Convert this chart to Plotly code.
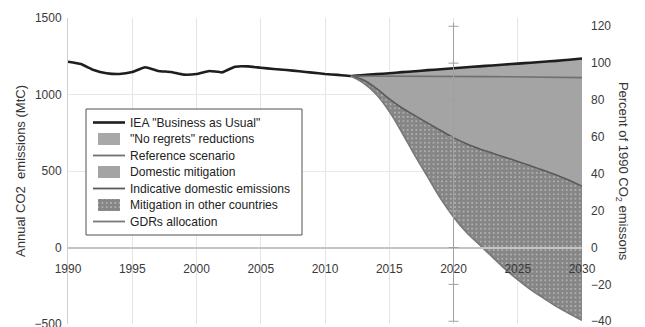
import plotly.graph_objects as go

# Historical emissions (MtC), 1990-2012
hist_years = list(range(1990, 2013))
hist_vals = [1214, 1199, 1160, 1139, 1134, 1147, 1178, 1154, 1147, 1130, 1134,
             1154, 1145, 1182, 1184, 1175, 1167, 1160, 1152, 1143, 1134, 1128, 1121]

# Projections, 2012-2030
proj_years = list(range(2012, 2031))
bau = [1121, 1127, 1133, 1139, 1146, 1152, 1159, 1165, 1172, 1178, 1184,
       1190, 1196, 1202, 1208, 1214, 1220, 1227, 1235]
reference = [1121, 1121, 1121, 1121, 1121, 1121, 1121, 1121, 1120, 1119, 1118,
             1117, 1116, 1115, 1114, 1113, 1112, 1111, 1110]
domestic = [1121, 1095, 1040, 972, 912, 862, 813, 765, 718, 678, 645,
            617, 590, 562, 534, 505, 474, 439, 400]
gdrs = [1121, 1075, 1000, 890, 750, 600, 460, 320, 200, 100, 20,
        -60, -140, -210, -275, -330, -385, -432, -476]

bau_all_years = hist_years + proj_years[1:]
bau_all = hist_vals + bau[1:]

# Right axis: percent of 1990 emissions
base_1990 = 1205
pct_ticks = [120, 100, 80, 60, 40, 20, 0, -20, -40]
mtc_ticks = [1500, 1000, 500, 0, -500]
x_ticks = list(range(1990, 2031, 5))

# Legend entries: (label, kind)
legend_items = [
    ("IEA \"Business as Usual\"", "bau"),
    ("\"No regrets\" reductions", "noregrets"),
    ("Reference scenario", "reference"),
    ("Domestic mitigation", "domestic_fill"),
    ("Indicative domestic emissions", "domestic_line"),
    ("Mitigation in other countries", "hatch"),
    ("GDRs allocation", "gdrs"),
]

COL_BAU = "#1e1e1e"
COL_REF = "#707070"
COL_DOM = "#5a5a5a"
COL_GDR = "#777777"
FILL_NOREG = "#a8a8a8"
FILL_DOM = "#a4a4a4"
HATCH = dict(shape="+", fgcolor="#5a5a5a", bgcolor="#b2b2b2", size=4.3, solidity=0.85)

fig = go.Figure()

# --- filled bands (drawn first, lines go on top) ---
fig.add_trace(go.Scatter(x=proj_years, y=gdrs, mode="lines", line=dict(width=0),
                         showlegend=False, hoverinfo="skip"))
fig.add_trace(go.Scatter(x=proj_years, y=domestic, mode="lines", line=dict(width=0, shape="spline"),
                         fill="tonexty", fillcolor="#808080", fillpattern=HATCH,
                         showlegend=False, hoverinfo="skip"))
fig.add_trace(go.Scatter(x=proj_years, y=reference, mode="lines", line=dict(width=0),
                         fill="tonexty", fillcolor=FILL_DOM, showlegend=False, hoverinfo="skip"))
fig.add_trace(go.Scatter(x=proj_years, y=bau, mode="lines", line=dict(width=0),
                         fill="tonexty", fillcolor=FILL_NOREG, showlegend=False, hoverinfo="skip"))

# --- lines ---
fig.add_trace(go.Scatter(x=bau_all_years, y=bau_all, mode="lines",
                         line=dict(color=COL_BAU, width=2.6, shape="spline", smoothing=0.4),
                         showlegend=False))
fig.add_trace(go.Scatter(x=proj_years, y=reference, mode="lines",
                         line=dict(color=COL_REF, width=1.6), showlegend=False))
fig.add_trace(go.Scatter(x=proj_years, y=domestic, mode="lines",
                         line=dict(color=COL_DOM, width=1.6, shape="spline"), showlegend=False))
fig.add_trace(go.Scatter(x=proj_years, y=gdrs, mode="lines",
                         line=dict(color=COL_GDR, width=1.6, shape="spline"), showlegend=False))

# Secondary scale in percent of 1990
fig.add_trace(go.Scatter(x=[2030, 2030], y=[pct_ticks[-1], pct_ticks[0]], yaxis="y2",
                         mode="lines", line=dict(width=0), showlegend=False, hoverinfo="skip"))

# Marker rule at 2020 with tick dashes at the percent ticks
fig.add_shape(type="line", xref="x", yref="paper", x0=2020, x1=2020, y0=0.01, y1=0.985,
              line=dict(color="#a0a0a0", width=1))
for p in pct_ticks:
    fig.add_shape(type="line", xref="x", yref="y2", xsizemode="pixel", xanchor=2020,
                  x0=-5, x1=5, y0=p, y1=p, line=dict(color="#a0a0a0", width=1))

# --- legend, drawn on a pixel-unit overlay axis pair (x3/y3) ---
font_family = "Liberation Sans, Arial, sans-serif"
box_l, box_r, box_t, box_b = 86, 302, 109, 235
row0, row_gap = 122.5, 16.5
line_x0, line_x1 = 93, 125
sq_x0, sq_x1, sq_h = 98, 120, 12
text_x = 128

fig.add_trace(go.Scatter(x=[box_l, box_r, box_r, box_l, box_l],
                         y=[box_t, box_t, box_b, box_b, box_t],
                         xaxis="x3", yaxis="y3", mode="lines", fill="toself",
                         fillcolor="white", line=dict(color="#505050", width=1),
                         showlegend=False, hoverinfo="skip"))

line_style = {"bau": (COL_BAU, 2.6), "reference": (COL_REF, 1.8),
              "domestic_line": (COL_DOM, 1.8), "gdrs": (COL_GDR, 1.8)}
fill_style = {"noregrets": FILL_NOREG, "domestic_fill": FILL_DOM}

annotations = []
for i, (label, kind) in enumerate(legend_items):
    yc = row0 + i * row_gap
    if kind in line_style:
        c, w = line_style[kind]
        fig.add_trace(go.Scatter(x=[line_x0, line_x1], y=[yc, yc], xaxis="x3", yaxis="y3",
                                 mode="lines", line=dict(color=c, width=w),
                                 showlegend=False, hoverinfo="skip"))
    else:
        sx = [sq_x0, sq_x1, sq_x1, sq_x0, sq_x0]
        sy = [yc - sq_h / 2, yc - sq_h / 2, yc + sq_h / 2, yc + sq_h / 2, yc - sq_h / 2]
        if kind == "hatch":
            fig.add_trace(go.Scatter(x=sx, y=sy, xaxis="x3", yaxis="y3", mode="lines",
                                     fill="toself", fillcolor="#808080", fillpattern=HATCH,
                                     line=dict(width=0), showlegend=False, hoverinfo="skip"))
        else:
            fig.add_trace(go.Scatter(x=sx, y=sy, xaxis="x3", yaxis="y3", mode="lines",
                                     fill="toself", fillcolor=fill_style[kind],
                                     line=dict(width=0), showlegend=False, hoverinfo="skip"))
    annotations.append(dict(text=label, xref="x3", yref="y3", x=text_x, y=yc,
                            xanchor="left", yanchor="middle", showarrow=False,
                            font=dict(size=12.1, color="#222", family=font_family)))

annotations.append(dict(text="Percent of 1990 CO<sub>2</sub> emissons", textangle=90,
                        xref="paper", yref="paper", x=1.08, y=0.5, showarrow=False,
                        xanchor="center", yanchor="middle",
                        font=dict(size=13, color="#333")))

fig.update_layout(
    width=645, height=327,
    margin=dict(l=68, r=63, t=18, b=3, autoexpand=False),
    paper_bgcolor="white", plot_bgcolor="white",
    font=dict(family=font_family, size=12, color="#3a3a3a"),
    showlegend=False,
    xaxis=dict(range=[1990, 2030], tickvals=x_ticks, showgrid=True, gridcolor="#e4e4e4",
               gridwidth=1, anchor="free", position=(0 - (-500)) / 2000,
               showline=True, linecolor="#c4c4c4", linewidth=1.5, ticks="",
               ticklabelstandoff=10, zeroline=False, automargin=False,
               tickfont=dict(size=12, color="#3a3a3a")),
    yaxis=dict(range=[-500, 1500], tickvals=mtc_ticks, showgrid=True, gridcolor="#e8e8e8",
               zeroline=False, showline=True, linecolor="#d0d0d0", ticks="",
               ticklabeloverflow="allow", automargin=False, ticklabelstandoff=3,
               title=dict(text="Annual CO2  emissions (MtC)", standoff=6,
                          font=dict(size=13, color="#333")),
               tickfont=dict(size=12, color="#3a3a3a")),
    yaxis2=dict(range=[-500 / base_1990 * 100, 1500 / base_1990 * 100], overlaying="y",
                side="right", tickvals=pct_ticks, showgrid=False, zeroline=False,
                showline=False, ticks="", ticklabeloverflow="allow", automargin=False,
                ticklabelstandoff=8, tickfont=dict(size=12, color="#3a3a3a")),
    xaxis3=dict(range=[68, 582], overlaying="x", visible=False, fixedrange=True,
                automargin=False),
    yaxis3=dict(range=[324, 18], overlaying="y", visible=False, fixedrange=True,
                automargin=False),
    annotations=annotations,
)

fig.write_html("out.html")
